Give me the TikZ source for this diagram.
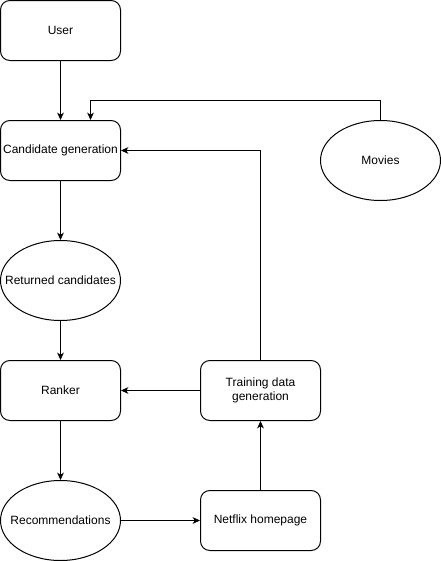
\documentclass[tikz,border=0pt]{standalone}
\usepackage{fontspec}
\setmainfont{Liberation Sans}
\usetikzlibrary{shapes.geometric,arrows.meta,calc}

\tikzset{
	box/.style={draw,line width=0.75pt,rounded corners=7pt,minimum width=90pt,minimum height=45pt,inner sep=0pt,align=center,font=\fontsize{9}{11}\selectfont},
	oval/.style={draw,line width=0.75pt,ellipse,minimum width=90pt,minimum height=60pt,inner sep=0pt,label={[font=\fontsize{9}{11}\selectfont]center:#1}},
	flow/.style={line width=0.75pt,-{Stealth[length=5.5pt,width=5pt,inset=1.5pt]}}
}

\begin{document}
\begin{tikzpicture}[x=0.75pt,y=-0.75pt]
	\useasboundingbox (0,0) rectangle (441,561);
	% left column
	\node[box] (user) at (60.5,30.5) {User};
	\node[box] (cand) at (60.5,150.5) {Candidate generation};
	\node[oval=Returned candidates] (ret) at (60.5,280.5) {};
	\node[box] (ranker) at (60.5,390.5) {Ranker};
	\node[oval=Recommendations] (recs) at (60.5,520.5) {};
	% right side
	\node[box] (train) at (260.5,390.5) {Training data\\generation};
	\node[box] (netflix) at (260.5,520.5) {Netflix homepage};
	\node[oval=Movies] (movies) at (380.5,160.5) {};
	% connectors
	\draw[flow] (user) -- (cand);
	\draw[flow] (movies.north) -- ++(0,-20) -| ($(cand.north)+(30,0)$);
	\draw[flow] (cand) -- (ret);
	\draw[flow] (ret) -- (ranker);
	\draw[flow] (ranker) -- (recs);
	\draw[flow] (recs) -- (netflix);
	\draw[flow] (netflix) -- (train);
	\draw[flow] (train) -- (ranker);
	\draw[flow] (train.north) |- (cand.east);
\end{tikzpicture}
\end{document}
